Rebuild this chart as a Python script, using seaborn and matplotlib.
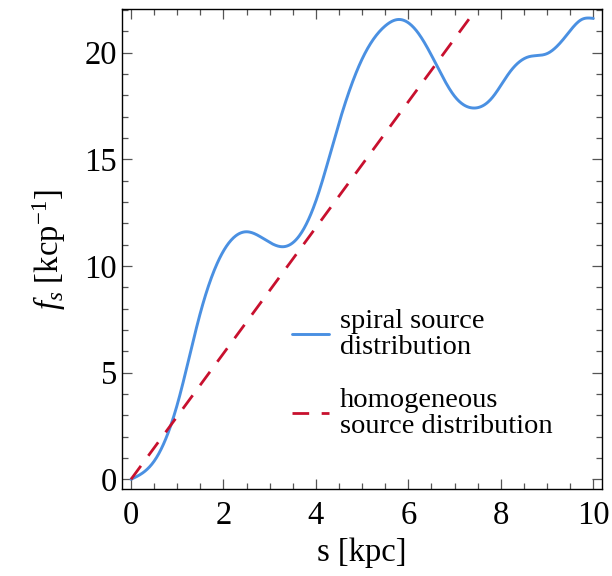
import matplotlib
matplotlib.use("Agg")
import matplotlib.pyplot as plt
import seaborn as sns
import numpy as np
import pandas as pd
from matplotlib.ticker import MultipleLocator

# Data
spiral_s = [0.0, 0.5, 1.0, 1.5, 2.0, 2.5, 3.0, 3.3, 3.6, 4.0, 4.5, 5.0, 5.5, 5.8,
            6.2, 6.6, 7.0, 7.4, 7.8, 8.2, 8.6, 9.0, 9.4, 9.75, 10.0]
spiral_f = [0.0, 0.85, 3.5, 7.8, 10.7, 11.6, 11.1, 10.9, 11.3, 13.05, 16.7, 19.7,
            21.25, 21.55, 20.95, 19.45, 17.95, 17.4, 17.85, 19.1, 19.8, 19.95, 20.75,
            21.55, 21.6]
homog_s = [0.0, 10.0]
homog_f = [0.0, 29.5]

labels = ["spiral source\ndistribution", "homogeneous\nsource distribution"]
xticks = [0, 2, 4, 6, 8, 10]
yticks = [0, 5, 10, 15, 20]

sns.set_style("ticks")
plt.rcParams["font.family"] = ["Liberation Serif", "DejaVu Serif"]
plt.rcParams["mathtext.fontset"] = "custom"
plt.rcParams["mathtext.rm"] = "Liberation Serif"
plt.rcParams["mathtext.it"] = "Liberation Serif:italic"
for k in ["text.color", "axes.labelcolor", "xtick.labelcolor", "ytick.labelcolor"]:
    plt.rcParams[k] = "black"

# natural cubic spline through the read points (smooth curve like the original)
def natural_spline(x, y, xn):
    x = np.asarray(x, float); y = np.asarray(y, float)
    n = len(x); h = np.diff(x)
    A = np.zeros((n, n)); b = np.zeros(n)
    A[0, 0] = A[-1, -1] = 1.0
    for i in range(1, n - 1):
        A[i, i-1] = h[i-1]; A[i, i] = 2*(h[i-1] + h[i]); A[i, i+1] = h[i]
        b[i] = 6*((y[i+1]-y[i])/h[i] - (y[i]-y[i-1])/h[i-1])
    M = np.linalg.solve(A, b)
    idx = np.clip(np.searchsorted(x, xn) - 1, 0, n - 2)
    hi = h[idx]; t1 = x[idx+1] - xn; t0 = xn - x[idx]
    return (M[idx]*t1**3/(6*hi) + M[idx+1]*t0**3/(6*hi)
            + (y[idx]/hi - M[idx]*hi/6)*t1 + (y[idx+1]/hi - M[idx+1]*hi/6)*t0)

xn = np.linspace(0, 10, 800)
yn = natural_spline(spiral_s, spiral_f, xn)

df1 = pd.DataFrame({"s": xn, "f": yn})
df2 = pd.DataFrame({"s": homog_s, "f": homog_f})

fig = plt.figure(figsize=(6.12, 5.76), dpi=100)
ax = fig.add_axes([0.199, 0.1505, 0.784, 0.8335])

sns.lineplot(data=df1, x="s", y="f", ax=ax, color="#4a90e2", lw=2.1, label=labels[0])
sns.lineplot(data=df2, x="s", y="f", ax=ax, color="#c8102e", lw=2.0,
             dashes=False, label=labels[1])
ax.lines[1].set_dashes([6, 4.5])

ax.set_xlim(-0.2, 10.18)
ax.set_ylim(-0.47, 22.03)
ax.set_xticks(xticks)
ax.set_yticks(yticks)
ax.xaxis.set_minor_locator(MultipleLocator(0.5))
ax.yaxis.set_minor_locator(MultipleLocator(1))
ax.tick_params(which="both", direction="in", top=True, right=True,
               color="#555555", labelsize=23.5, width=0.9)
ax.tick_params(which="major", length=7)
ax.tick_params(which="minor", length=4)
ax.tick_params(axis="x", pad=8)
for sp in ax.spines.values():
    sp.set_linewidth(1.0)
    sp.set_color("black")

ax.set_xlabel("s [kpc]", fontsize=23.5, labelpad=5)
ax.set_ylabel(r"$f_s$ [kcp$^{-1}$]", fontsize=23.5, labelpad=12)

leg = ax.legend(loc="upper left", bbox_to_anchor=(0.33, 0.40), frameon=False,
                fontsize=20.5, handlelength=1.3, handletextpad=0.4,
                labelspacing=1.0, borderaxespad=0)
for t in leg.get_texts():
    t.set_linespacing(1.05)

fig.savefig("out.png", dpi=100)
